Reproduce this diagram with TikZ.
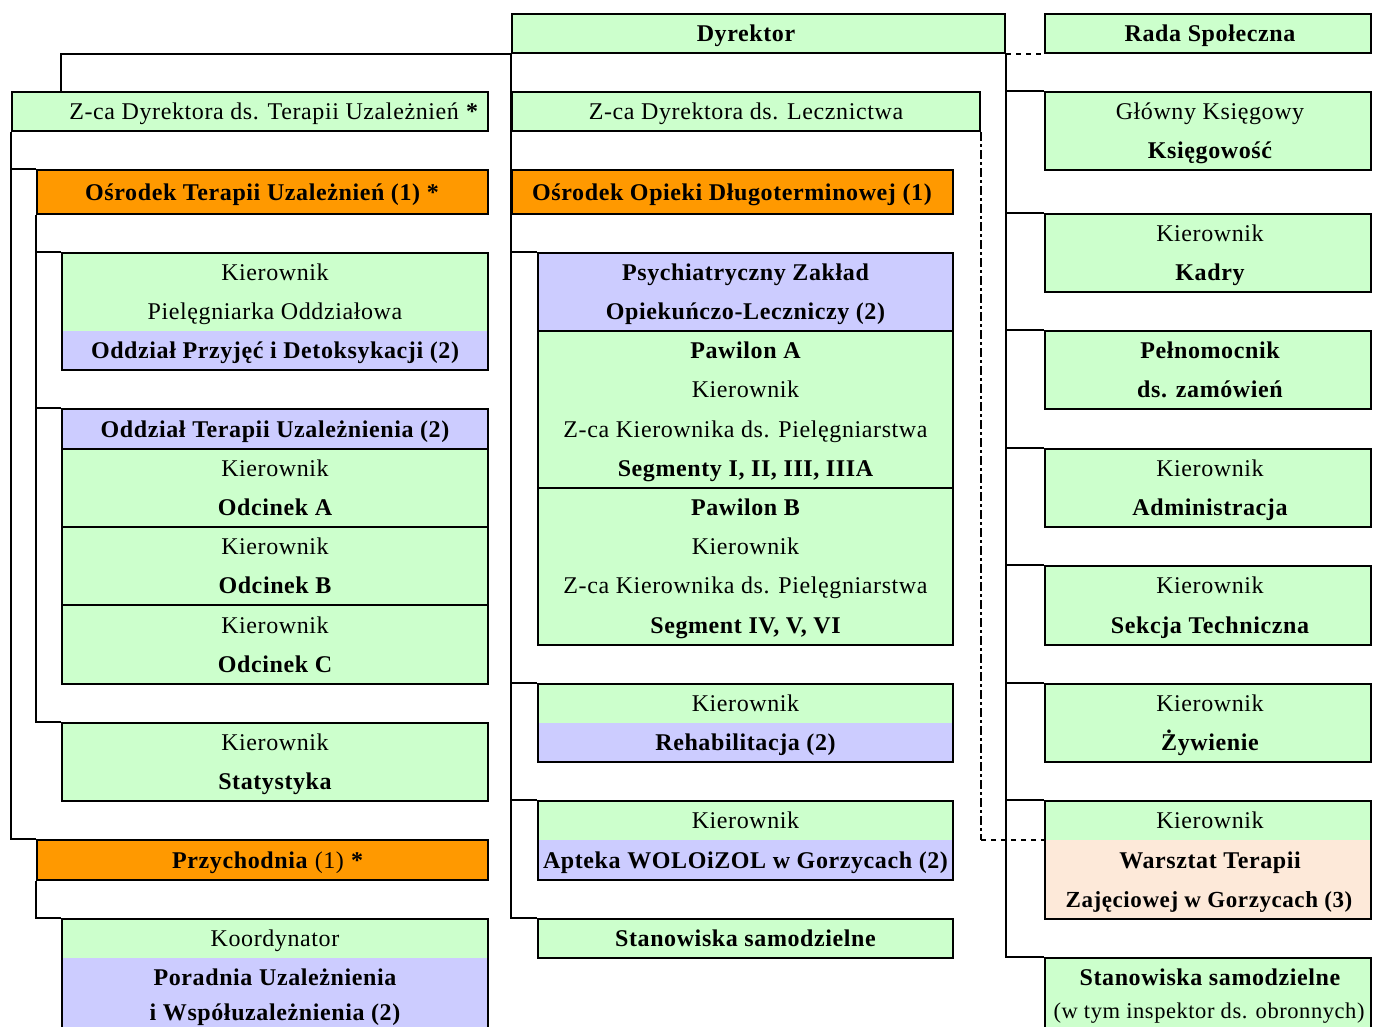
\documentclass[tikz,border=0pt]{standalone}
\usepackage{fontspec}
\setmainfont{Liberation Serif}[LetterSpace=2.5]
\usetikzlibrary{fit}
\definecolor{cgreen}{HTML}{CCFFCC}
\definecolor{cblue}{HTML}{CCCCFF}
\definecolor{corange}{HTML}{FF9900}
\definecolor{cpeach}{HTML}{FDE9D9}
\tikzset{
  frame/.style={draw=black, line width=2.4pt, inner sep=0pt, fill=none},
  conn/.style={draw=black, line width=2.4pt},
  dconn/.style={draw=black, line width=1.6pt, dash pattern=on 5pt off 5pt},
  ddconn/.style={draw=black, line width=1.6pt, dash pattern=on 9pt off 3pt on 3pt off 3pt},
  t/.style={anchor=base, inner sep=0pt, font=\fontsize{24}{28}\selectfont},
  tb/.style={t, font=\fontsize{24}{28}\selectfont\bfseries},
}
\newcommand{\bx}[5]{\node[frame, fit={(#2,#3) (#4,#5)}] (#1) {};}
\begin{document}
\begin{tikzpicture}[x=1pt, y=-1pt]
\useasboundingbox (0,0) rectangle (1374,1026);
\begin{scope}
\clip (0,0) rectangle (1374,1026);
% ---------- fills ----------
% left
\fill[cgreen] (12,92) rectangle (488,131);
\fill[corange] (37,170) rectangle (488,214);
\fill[cgreen] (62,253) rectangle (488,331);
\fill[cblue] (62,331) rectangle (488,370);
\fill[cblue] (62,409) rectangle (488,449);
\fill[cgreen] (62,449) rectangle (488,684);
\fill[cgreen] (62,723) rectangle (488,801);
\fill[corange] (37,840) rectangle (488,880);
\fill[cgreen] (62,919) rectangle (488,958);
\fill[cblue] (62,958) rectangle (488,1040);
% middle
\fill[cgreen] (512,14) rectangle (1005,53);
\fill[cgreen] (512,92) rectangle (980,131);
\fill[corange] (512,170) rectangle (953,214);
\fill[cblue] (538,253) rectangle (953,331);
\fill[cgreen] (538,331) rectangle (953,645);
\fill[cgreen] (538,684) rectangle (953,723);
\fill[cblue] (538,723) rectangle (953,762);
\fill[cgreen] (538,801) rectangle (953,840);
\fill[cblue] (538,840) rectangle (953,880);
\fill[cgreen] (538,919) rectangle (953,958);
% right
\fill[cgreen] (1045,14) rectangle (1371,53);
\fill[cgreen] (1045,92) rectangle (1371,170);
\fill[cgreen] (1045,214) rectangle (1371,292);
\fill[cgreen] (1045,331) rectangle (1371,409);
\fill[cgreen] (1045,449) rectangle (1371,527);
\fill[cgreen] (1045,566) rectangle (1371,645);
\fill[cgreen] (1045,684) rectangle (1371,762);
\fill[cgreen] (1045,801) rectangle (1371,840);
\fill[cpeach] (1045,840) rectangle (1371,919);
\fill[cgreen] (1045,958) rectangle (1371,1040);
% ---------- boxes ----------
\bx{zt}{12}{92}{488}{131}
\bx{otu}{37}{170}{488}{214}
\bx{kp}{62}{253}{488}{370}
\bx{odt}{62}{409}{488}{449}
\bx{oa}{62}{449}{488}{527}
\bx{ob}{62}{527}{488}{605}
\bx{oc}{62}{605}{488}{684}
\bx{stat}{62}{723}{488}{801}
\bx{prz}{37}{840}{488}{880}
\bx{koord}{62}{919}{488}{1040}
\bx{dyr}{512}{14}{1005}{53}
\bx{zl}{512}{92}{980}{131}
\bx{oo}{512}{170}{953}{214}
\bx{pz}{538}{253}{953}{331}
\bx{pa}{538}{331}{953}{488}
\bx{pb}{538}{488}{953}{645}
\bx{reh}{538}{684}{953}{762}
\bx{apt}{538}{801}{953}{880}
\bx{stm}{538}{919}{953}{958}
\bx{rada}{1045}{14}{1371}{53}
\bx{gk}{1045}{92}{1371}{170}
\bx{kad}{1045}{214}{1371}{292}
\bx{peln}{1045}{331}{1371}{409}
\bx{adm}{1045}{449}{1371}{527}
\bx{sek}{1045}{566}{1371}{645}
\bx{zyw}{1045}{684}{1371}{762}
\bx{wtz}{1045}{801}{1371}{919}
\bx{stR}{1045}{958}{1371}{1040}
\coordinate (wtzmid) at (1045,840);
% ---------- connectors ----------
\draw[conn] (dyr.south west) -| (zt.north -| kp.west);
\draw[conn] (zt.south west) |- (prz.north west);
\draw[conn] (otu.north west) -- (otu.north west -| zt.west);
\draw[conn] (otu.south west) |- (stat.north west);
\draw[conn] (kp.north west) -- (kp.north west -| otu.west);
\draw[conn] (odt.north west) -- (odt.north west -| otu.west);
\draw[conn] (prz.south west) |- (koord.north west);
\draw[conn] (dyr.south west) |- (stm.north west);
\draw[conn] (pz.north west) -- (pz.north west -| dyr.west);
\draw[conn] (reh.north west) -- (reh.north west -| dyr.west);
\draw[conn] (apt.north west) -- (apt.north west -| dyr.west);
\draw[dconn] (dyr.south east) -- (rada.south west);
\draw[conn] (dyr.south east) |- (stR.north west);
\foreach \b in {gk,kad,peln,adm,sek,zyw,wtz}
  \draw[conn] (\b.north west) -- (\b.north west -| dyr.east);
\draw[ddconn] (zl.south east) -- (zl.south east |- wtzmid);
\draw[dconn] (zl.south east |- wtzmid) -- (wtzmid);
% ---------- texts ----------
% left
\node[t] (t1) at (274,119.5) {Z-ca Dyrektora ds. Terapii Uzależnień \textbf{*}};
\node[tb] (t2) at (262,200) {Ośrodek Terapii Uzależnień (1) *};
\node[t] (t3) at (275,280.5) {Kierownik};
\node[t] (t4) at (275,319.5) {Pielęgniarka Oddziałowa};
\node[tb] (t5) at (275,358.5) {Oddział Przyjęć i Detoksykacji (2)};
\node[tb] (t6) at (275,437) {Oddział Terapii Uzależnienia (2)};
\node[t] (t7) at (275,476.5) {Kierownik};
\node[tb] (t8) at (275,515.5) {Odcinek A};
\node[t] (t9) at (275,554.5) {Kierownik};
\node[tb] (t10) at (275,593.5) {Odcinek B};
\node[t] (t11) at (275,633) {Kierownik};
\node[tb] (t12) at (275,672.5) {Odcinek C};
\node[t] (t13) at (275,750.5) {Kierownik};
\node[tb] (t14) at (275,789.5) {Statystyka};
\node[t] (t15) at (268,868) {\textbf{Przychodnia} (1) \textbf{*}};
\node[t] (t16) at (275,946.5) {Koordynator};
\node[tb] (t17) at (275,985.5) {Poradnia Uzależnienia};
\node[tb] (t18) at (275,1020) {i Współuzależnienia (2)};
% middle
\node[tb] (m1) at (746,41.5) {Dyrektor};
\node[t] (m2) at (746,119.5) {Z-ca Dyrektora ds. Lecznictwa};
\node[tb] (m3) at (732,200) {Ośrodek Opieki Długoterminowej (1)};
\node[tb] (m4) at (745.5,280.5) {Psychiatryczny Zakład};
\node[tb] (m5) at (745.5,319.5) {Opiekuńczo-Leczniczy (2)};
\node[tb] (m6) at (745.5,358.5) {Pawilon A};
\node[t] (m7) at (745.5,397.5) {Kierownik};
\node[t] (m8) at (745.5,437) {Z-ca Kierownika ds. Pielęgniarstwa};
\node[tb] (m9) at (745.5,476.5) {Segmenty I, II, III, IIIA};
\node[tb] (m10) at (745.5,515.5) {Pawilon B};
\node[t] (m11) at (745.5,554.5) {Kierownik};
\node[t] (m12) at (745.5,593.5) {Z-ca Kierownika ds. Pielęgniarstwa};
\node[tb] (m13) at (745.5,633) {Segment IV, V, VI};
\node[t] (m14) at (745.5,711.5) {Kierownik};
\node[tb] (m15) at (745.5,750.5) {Rehabilitacja (2)};
\node[t] (m16) at (745.5,828.5) {Kierownik};
\node[tb] (m17) at (745.5,868) {Apteka WOLOiZOL w Gorzycach (2)};
\node[tb] (m18) at (745.5,946.5) {Stanowiska samodzielne};
% right
\node[tb] (r1) at (1210,41.5) {Rada Społeczna};
\node[t] (r2) at (1210,119.5) {Główny Księgowy};
\node[tb] (r3) at (1210,158.5) {Księgowość};
\node[t] (r4) at (1210,241.5) {Kierownik};
\node[tb] (r5) at (1210,280.5) {Kadry};
\node[tb] (r6) at (1210,358.5) {Pełnomocnik};
\node[tb] (r7) at (1210,397.5) {ds. zamówień};
\node[t] (r8) at (1210,476.5) {Kierownik};
\node[tb] (r9) at (1210,515.5) {Administracja};
\node[t] (r10) at (1210,593.5) {Kierownik};
\node[tb] (r11) at (1210,633) {Sekcja Techniczna};
\node[t] (r12) at (1210,711.5) {Kierownik};
\node[tb] (r13) at (1210,750.5) {Żywienie};
\node[t] (r14) at (1210,828.5) {Kierownik};
\node[tb] (r15) at (1210,868) {Warsztat Terapii};
\node[tb, font=\fontsize{23}{28}\selectfont\bfseries] (r16) at (1209,907.5) {Zajęciowej w Gorzycach (3)};
\node[tb] (r17) at (1210,985.5) {Stanowiska samodzielne};
\node[t, font=\fontsize{22.5}{28}\selectfont] (r18) at (1209,1018) {(w tym inspektor ds. obronnych)};
\end{scope}
\end{tikzpicture}
\end{document}
